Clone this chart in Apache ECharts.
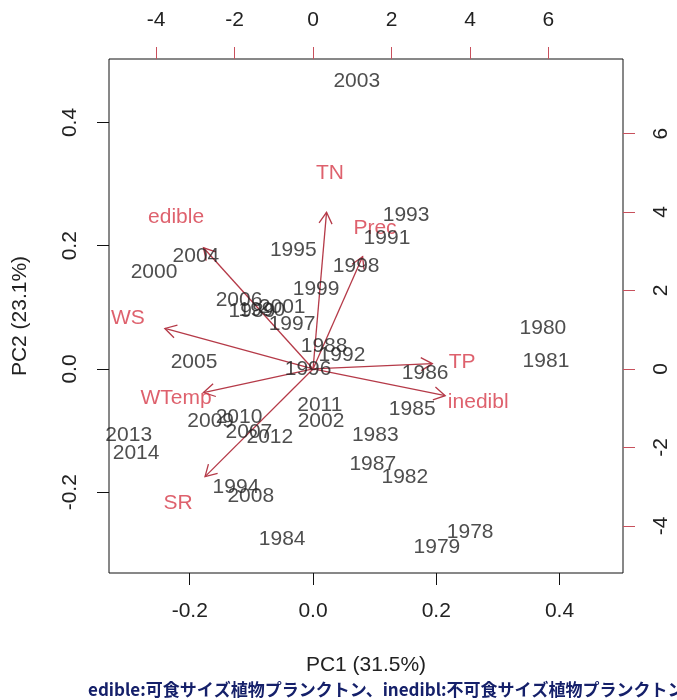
<!DOCTYPE html>
<html>
<head>
<meta charset="utf-8">
<script src="https://cdn.jsdelivr.net/npm/echarts@6/dist/echarts.min.js"></script>
<style>
  html, body { margin: 0; padding: 0; background: #fff; }
  #chart { width: 677px; height: 700px; }
</style>
</head>
<body>
<div id="chart"></div>
<script>
// PCA biplot: yearly scores (PC1/PC2) and variable loadings as arrows.
const years = ['1978','1979','1980','1981','1982','1983','1984','1985','1986','1987',
  '1988','1989','1990','1991','1992','1993','1994','1995','1996','1997',
  '1998','1999','2000','2001','2002','2003','2004','2005','2006','2007',
  '2008','2009','2010','2011','2012','2013','2014'];
const pc1 = [0.255, 0.201, 0.373, 0.378, 0.149, 0.101, -0.050, 0.161, 0.182, 0.097,
  0.018, -0.099, -0.083, 0.120, 0.047, 0.151, -0.125, -0.032, -0.008, -0.034,
  0.070, 0.005, -0.258, -0.050, 0.013, 0.071, -0.190, -0.193, -0.120, -0.104,
  -0.101, -0.166, -0.120, 0.011, -0.070, -0.299, -0.287];
const pc2 = [-0.264, -0.289, 0.066, 0.012, -0.176, -0.107, -0.276, -0.066, -0.007, -0.155,
  0.037, 0.093, 0.095, 0.212, 0.022, 0.249, -0.192, 0.192, -0.001, 0.073,
  0.166, 0.129, 0.157, 0.101, -0.084, 0.467, 0.183, 0.011, 0.111, -0.103,
  -0.207, -0.084, -0.079, -0.058, -0.111, -0.108, -0.136];

const variables = ['TN', 'Prec', 'edible', 'WS', 'TP', 'inedibl', 'WTemp', 'SR'];
const loadX = [0.43, 1.58, -3.49, -4.72, 3.80, 4.21, -3.49, -3.44];
const loadY = [4.99, 3.58, 3.86, 1.29, 0.17, -0.85, -0.75, -3.43];

const scoreTicks = [-0.2, 0, 0.2, 0.4];
const loadTicks = [-4, -2, 0, 2, 4, 6];
const scoreRange = [-0.331, 0.503];
const loadRange = [-5.20, 7.90];

const pc1Title = 'PC1 (31.5%)';
const pc2Title = 'PC2 (23.1%)';
const caption = 'edible:可食サイズ植物プランクトン、inedibl:不可食サイズ植物プランクトン';

const FONT = '"Liberation Sans", Arial, sans-serif';
const TEXT = '#222222';
const RED = '#d63a49';
const ARROW = '#b53a48';
const FS = 21;

const scoreData = years.map((y, i) => [pc1[i], pc2[i], y]);
const labelData = variables.map((v, i) => [loadX[i], loadY[i], v]);
// arrows reach 80% of each loading, the label sits at the full loading
const arrowData = variables.map((v, i) => [loadX[i] * 0.8, loadY[i] * 0.8]);

function fmt1(v) { return (Math.abs(v) < 1e-9 ? 0 : v).toFixed(1); }

function axisCommon(min, max, ticks, tickColor, formatter, rotate) {
  return {
    type: 'value', min: min, max: max, scale: false,
    axisLine: { show: false, onZero: false },
    splitLine: { show: false },
    axisTick: { show: true, inside: false, length: 12, customValues: ticks,
      lineStyle: { color: tickColor, width: 1 } },
    axisLabel: { show: true, customValues: ticks, formatter: formatter, rotate: rotate,
      margin: 28, color: TEXT, fontSize: FS, fontFamily: FONT,
      showMinLabel: true, showMaxLabel: true }
  };
}

const chart = echarts.init(document.getElementById('chart'), null, { renderer: 'canvas' });

chart.setOption({
  animation: false,
  backgroundColor: '#fff',
  grid: { left: 109, top: 59, width: 514, height: 514, show: true,
    borderColor: '#111', borderWidth: 1, backgroundColor: 'transparent' },
  xAxis: [
    Object.assign(axisCommon(scoreRange[0], scoreRange[1], scoreTicks, '#111', fmt1, 0), {
      position: 'bottom', name: pc1Title, nameLocation: 'middle', nameGap: 82,
      nameTextStyle: { color: TEXT, fontSize: FS, fontFamily: FONT } }),
    Object.assign(axisCommon(loadRange[0], loadRange[1], loadTicks, '#c8505c', v => String(v), 0), {
      position: 'top' })
  ],
  yAxis: [
    Object.assign(axisCommon(scoreRange[0], scoreRange[1], scoreTicks, '#111', fmt1, 90), {
      position: 'left', name: pc2Title, nameLocation: 'middle', nameGap: 78, nameRotate: 90,
      nameTextStyle: { color: TEXT, fontSize: FS, fontFamily: FONT } }),
    Object.assign(axisCommon(loadRange[0], loadRange[1], loadTicks, '#c8505c', v => String(v), 90), {
      position: 'right' })
  ],
  series: [
    {
      type: 'custom',
      xAxisIndex: 1, yAxisIndex: 1,
      silent: true, clip: false,
      data: arrowData,
      renderItem: function (params, api) {
        const o = api.coord([0, 0]);
        const p = api.coord([api.value(0), api.value(1)]);
        const ang = Math.atan2(p[1] - o[1], p[0] - o[0]);
        const L = 13, A = Math.PI / 6;
        const h1 = [p[0] - L * Math.cos(ang - A), p[1] - L * Math.sin(ang - A)];
        const h2 = [p[0] - L * Math.cos(ang + A), p[1] - L * Math.sin(ang + A)];
        const style = { stroke: ARROW, lineWidth: 1.3, fill: null };
        return {
          type: 'group',
          children: [
            { type: 'polyline', shape: { points: [o, p] }, style: style },
            { type: 'polyline', shape: { points: [h1, p, h2] }, style: style }
          ]
        };
      }
    },
    {
      type: 'scatter',
      xAxisIndex: 1, yAxisIndex: 1,
      silent: true, symbolSize: 0,
      data: labelData,
      label: { show: true, position: 'inside', formatter: p => p.value[2],
        color: RED, fontSize: FS, fontFamily: FONT }
    },
    {
      type: 'scatter',
      xAxisIndex: 0, yAxisIndex: 0,
      silent: true, symbolSize: 0,
      data: scoreData,
      label: { show: true, position: 'inside', formatter: p => p.value[2],
        color: TEXT, fontSize: FS, fontFamily: FONT }
    }
  ],
  graphic: [
    { type: 'text', left: 88, top: 681,
      style: { text: caption, fill: '#15206a', fontSize: 17, fontWeight: 'bold',
        fontFamily: '"Noto Sans CJK JP", sans-serif' } }
  ]
});
</script>
</body>
</html>
